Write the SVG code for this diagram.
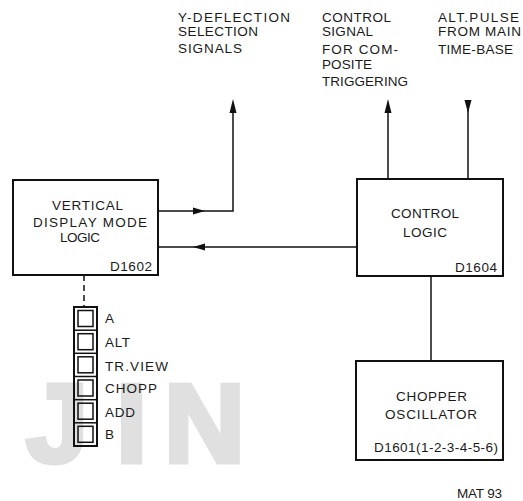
<svg xmlns="http://www.w3.org/2000/svg" width="523" height="501" viewBox="0 0 523 501">
<defs>
<style>
.t{font-family:"Liberation Sans","DejaVu Sans",sans-serif;font-size:13.5px;fill:#1a1a1a;}
.box{fill:none;stroke:#111;stroke-width:2;}
.ln{fill:none;stroke:#111;stroke-width:1.5;}
.ah{fill:#111;stroke:none;}
.wm{font-family:"Liberation Sans",sans-serif;font-weight:bold;font-size:112px;fill:#e0e0e0;stroke:#e0e0e0;stroke-width:5;}
</style>
</defs>
<rect width="523" height="501" fill="#ffffff"/>
<g id="watermark">
<text class="wm" x="26" y="462">J</text>
<text class="wm" x="116" y="462">I</text>
<text class="wm" x="164" y="462">N</text>
</g>
<g id="connectors">
<polyline class="ln" points="158,211 233,211 233,110"/>
<polygon class="ah" points="205,211 193,207.5 193,214.5"/>
<polygon class="ah" points="233,99 229.5,113 236.5,113"/>
<line class="ln" x1="158" y1="247" x2="357" y2="247"/>
<polygon class="ah" points="193,247 205,243.5 205,250.5"/>
<line class="ln" x1="388" y1="179" x2="388" y2="110"/>
<polygon class="ah" points="388,99 384.5,113 391.5,113"/>
<line class="ln" x1="468" y1="179" x2="468" y2="104"/>
<polygon class="ah" points="468,113 464.5,100 471.5,100"/>
<line class="ln" x1="431" y1="276" x2="431" y2="361"/>
<line class="ln" x1="84" y1="275" x2="84" y2="307" stroke-dasharray="6,4"/>
</g>
<g id="labels-top">
<text class="t" x="178" y="22" textLength="112" lengthAdjust="spacing">Y-DEFLECTION</text>
<text class="t" x="178" y="36" textLength="80" lengthAdjust="spacing">SELECTION</text>
<text class="t" x="178" y="53" textLength="64" lengthAdjust="spacing">SIGNALS</text>
<text class="t" x="322" y="22" textLength="69" lengthAdjust="spacing">CONTROL</text>
<text class="t" x="322" y="36" textLength="51" lengthAdjust="spacing">SIGNAL</text>
<text class="t" x="322" y="54" textLength="76" lengthAdjust="spacing">FOR COM-</text>
<text class="t" x="322" y="69" textLength="50" lengthAdjust="spacing">POSITE</text>
<text class="t" x="322" y="86" textLength="86" lengthAdjust="spacing">TRIGGERING</text>
<text class="t" x="438" y="22" textLength="81" lengthAdjust="spacing">ALT.PULSE</text>
<text class="t" x="438" y="36" textLength="83" lengthAdjust="spacing">FROM MAIN</text>
<text class="t" x="438" y="54" textLength="75" lengthAdjust="spacing">TIME-BASE</text>
</g>
<g id="vertical-display-mode-logic">
<rect class="box" x="13" y="180" width="145" height="95"/>
<text class="t" x="52" y="210" textLength="71" lengthAdjust="spacing">VERTICAL</text>
<text class="t" x="33" y="227" textLength="114" lengthAdjust="spacing">DISPLAY MODE</text>
<text class="t" x="60" y="242" textLength="40" lengthAdjust="spacing">LOGIC</text>
<text class="t" x="110" y="271" textLength="42" lengthAdjust="spacing">D1602</text>
</g>
<g id="control-logic">
<rect class="box" x="357" y="179" width="146" height="97"/>
<text class="t" x="391" y="218" textLength="68" lengthAdjust="spacing">CONTROL</text>
<text class="t" x="403" y="237" textLength="44" lengthAdjust="spacing">LOGIC</text>
<text class="t" x="455" y="272" textLength="42" lengthAdjust="spacing">D1604</text>
</g>
<g id="chopper-oscillator">
<rect class="box" x="356" y="361" width="147" height="99"/>
<text class="t" x="396" y="401" textLength="71" lengthAdjust="spacing">CHOPPER</text>
<text class="t" x="385" y="419" textLength="92" lengthAdjust="spacing">OSCILLATOR</text>
<text class="t" x="374" y="452" textLength="124" lengthAdjust="spacing">D1601(1-2-3-4-5-6)</text>
</g>
<g id="mode-switches">
<rect class="box" x="74" y="307" width="23" height="139" stroke-width="1.8"/>
<line class="ln" x1="74" y1="330.2" x2="97" y2="330.2"/>
<line class="ln" x1="74" y1="353.3" x2="97" y2="353.3"/>
<line class="ln" x1="74" y1="376.5" x2="97" y2="376.5"/>
<line class="ln" x1="74" y1="399.7" x2="97" y2="399.7"/>
<line class="ln" x1="74" y1="422.8" x2="97" y2="422.8"/>
<rect class="ln" x="78" y="310.5" width="15" height="16"/>
<rect class="ln" x="78" y="333.7" width="15" height="16"/>
<rect class="ln" x="78" y="356.8" width="15" height="16"/>
<rect class="ln" x="78" y="380" width="15" height="16"/>
<rect class="ln" x="78" y="403.2" width="15" height="16"/>
<rect class="ln" x="78" y="426.3" width="15" height="16"/>
<text class="t" x="105" y="323">A</text>
<text class="t" x="105" y="347" textLength="25" lengthAdjust="spacing">ALT</text>
<text class="t" x="105" y="371" textLength="63" lengthAdjust="spacing">TR.VIEW</text>
<text class="t" x="105" y="393" textLength="52" lengthAdjust="spacing">CHOPP</text>
<text class="t" x="105" y="417" textLength="30" lengthAdjust="spacing">ADD</text>
<text class="t" x="105" y="439">B</text>
</g>
<text class="t" x="457" y="498" textLength="45" lengthAdjust="spacing">MAT 93</text>
</svg>
